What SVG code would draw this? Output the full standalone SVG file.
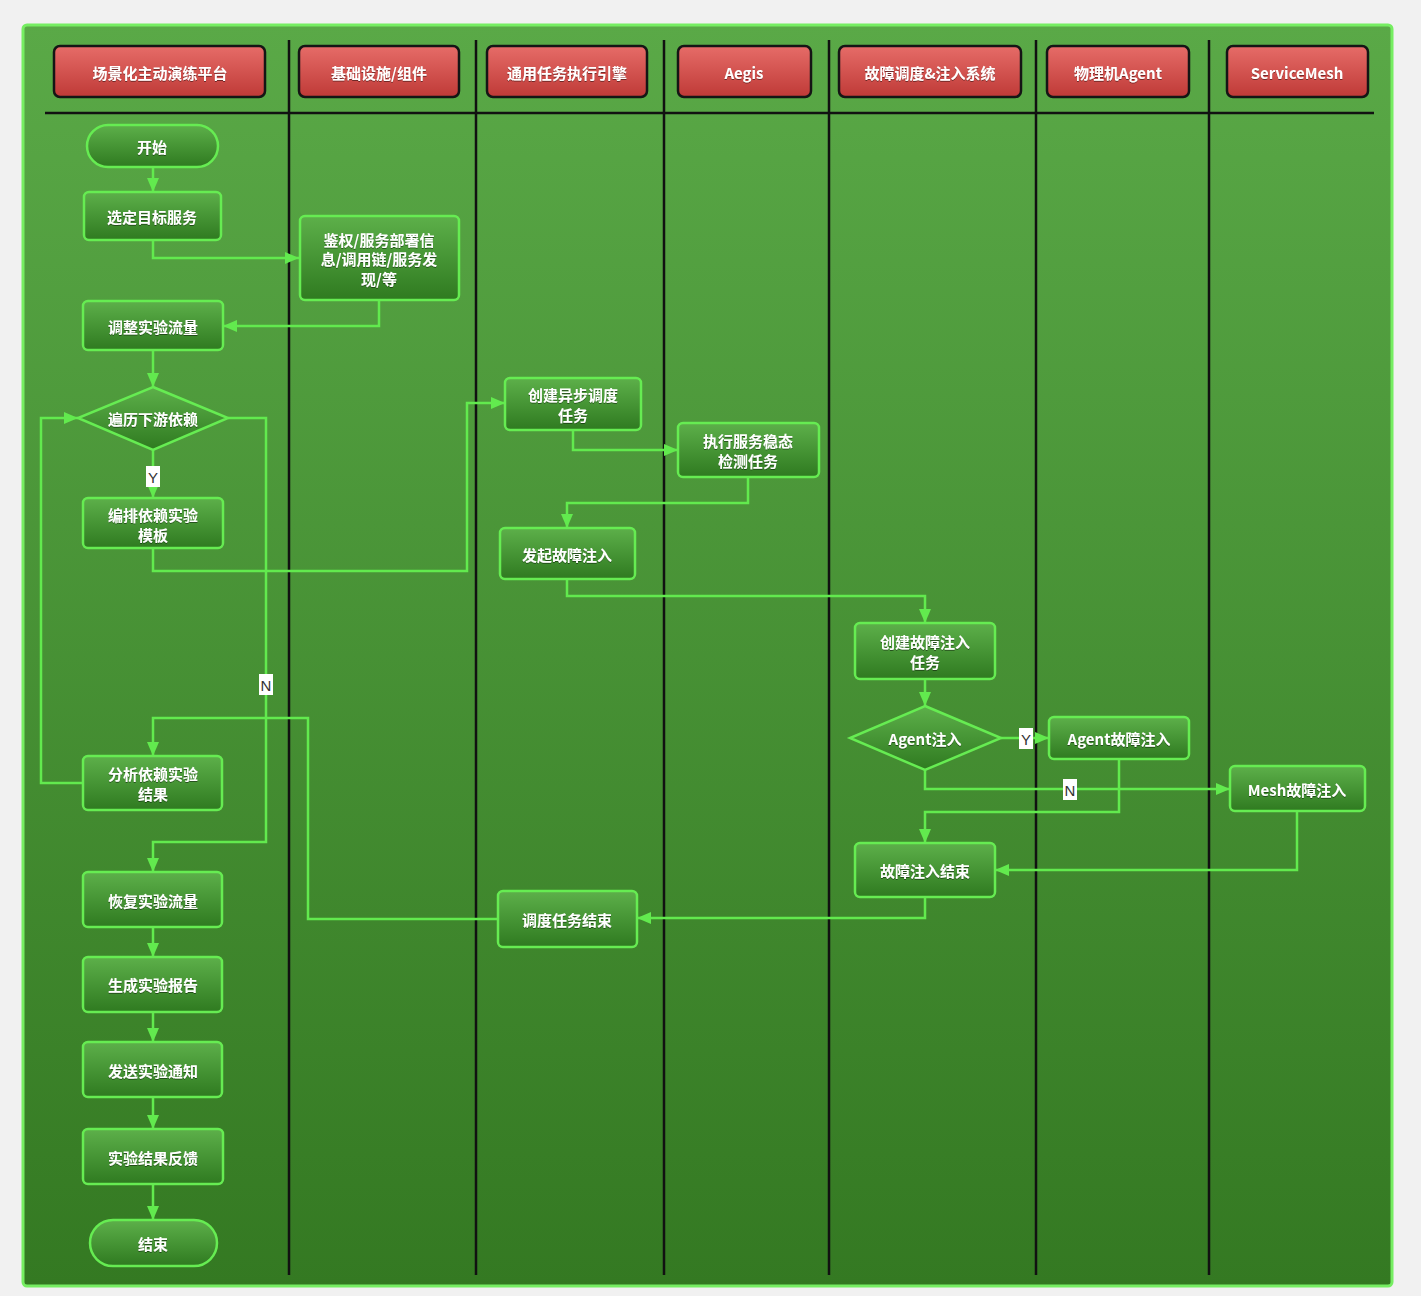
<svg xmlns="http://www.w3.org/2000/svg" width="1421" height="1296" viewBox="0 0 1421 1296">
<defs>
<linearGradient id="bg" x1="0" y1="0" x2="0" y2="1">
<stop offset="0" stop-color="#5aa947"/>
<stop offset="1" stop-color="#347922"/>
</linearGradient>
<linearGradient id="ng" x1="0" y1="0" x2="0" y2="1">
<stop offset="0" stop-color="#5db04a"/>
<stop offset="1" stop-color="#2f7a20"/>
</linearGradient>
<linearGradient id="hg" x1="0" y1="0" x2="0" y2="1">
<stop offset="0" stop-color="#e66c68"/>
<stop offset="1" stop-color="#bf3a37"/>
</linearGradient>
<marker id="arr" markerUnits="userSpaceOnUse" markerWidth="16" markerHeight="14" refX="14" refY="6" orient="auto">
<path d="M0,0 L14,6 L0,12 z" fill="#62ea4e"/>
</marker>
<filter id="ts" x="-10%" y="-30%" width="120%" height="160%">
<feDropShadow dx="0" dy="1" stdDeviation="0.6" flood-color="#000" flood-opacity="0.45"/>
</filter>
</defs>
<style>
.hdr{fill:url(#hg);stroke:#151515;stroke-width:2.5}
.nd{fill:url(#ng);stroke:#66ec52;stroke-width:2.5}
.t{font-family:"Noto Sans CJK SC","Noto Sans",sans-serif;font-size:15px;font-weight:bold;fill:#ffffff;text-anchor:middle;dominant-baseline:central;filter:url(#ts)}
.lane{stroke:#111;stroke-width:2.5;fill:none}
.e{fill:none;stroke:#62ea4e;stroke-width:2.5;marker-end:url(#arr)}
.lb{fill:#ffffff;stroke:none}
.lt{font-family:"Liberation Sans",sans-serif;font-size:15px;fill:#333;text-anchor:middle;dominant-baseline:central}
</style>
<rect x="0" y="0" width="1421" height="1296" fill="#f1f1f1"/>
<rect x="23" y="25" width="1369" height="1261" rx="4" fill="url(#bg)" stroke="#76ee62" stroke-width="3"/>
<g id="lanes">
<line class="lane" x1="45" y1="113" x2="1374" y2="113"/>
<line class="lane" x1="289" y1="40" x2="289" y2="1275"/>
<line class="lane" x1="476" y1="40" x2="476" y2="1275"/>
<line class="lane" x1="664" y1="40" x2="664" y2="1275"/>
<line class="lane" x1="829" y1="40" x2="829" y2="1275"/>
<line class="lane" x1="1036" y1="40" x2="1036" y2="1275"/>
<line class="lane" x1="1209" y1="40" x2="1209" y2="1275"/>
</g>
<g id="h1"><rect class="hdr" x="54" y="46" width="211" height="51" rx="6"/><text class="t" x="160" y="72">场景化主动演练平台</text></g>
<g id="h2"><rect class="hdr" x="299" y="46" width="160" height="51" rx="6"/><text class="t" x="379" y="72">基础设施/组件</text></g>
<g id="h3"><rect class="hdr" x="487" y="46" width="160" height="51" rx="6"/><text class="t" x="567" y="72">通用任务执行引擎</text></g>
<g id="h4"><rect class="hdr" x="678" y="46" width="133" height="51" rx="6"/><text class="t" x="744" y="72">Aegis</text></g>
<g id="h5"><rect class="hdr" x="839" y="46" width="182" height="51" rx="6"/><text class="t" x="930" y="72">故障调度&amp;注入系统</text></g>
<g id="h6"><rect class="hdr" x="1047" y="46" width="142" height="51" rx="6"/><text class="t" x="1118" y="72">物理机Agent</text></g>
<g id="h7"><rect class="hdr" x="1227" y="46" width="141" height="51" rx="6"/><text class="t" x="1297" y="72">ServiceMesh</text></g>
<g id="connectors">
<path class="e" d="M153,167 V192"/>
<path class="e" d="M153,240 V258 H299"/>
<path class="e" d="M379,300 V326 H223"/>
<path class="e" d="M153,350 V387"/>
<path class="e" d="M153,450 V498"/>
<path class="e" d="M228,418 H266 V842 H153 V872"/>
<path class="e" d="M153,548 V571 H467 V403 H505"/>
<path class="e" d="M573,430 V450 H678"/>
<path class="e" d="M748,477 V503 H567 V528"/>
<path class="e" d="M567,579 V596 H925 V623"/>
<path class="e" d="M925,679 V706"/>
<path class="e" d="M1001,738 H1049"/>
<path class="e" d="M925,770 V789 H1230"/>
<path class="e" d="M1119,759 V812 H925 V843"/>
<path class="e" d="M1297,811 V870 H995"/>
<path class="e" d="M925,897 V918 H637"/>
<path class="e" d="M498,919 H308 V718 H153 V756"/>
<path class="e" d="M83,783 H41 V418 H78"/>
<path class="e" d="M153,927 V957"/>
<path class="e" d="M153,1012 V1042"/>
<path class="e" d="M153,1097 V1129"/>
<path class="e" d="M153,1184 V1220"/>
<rect class="lb" x="146" y="466" width="14" height="21"/><text class="lt" x="153" y="477">Y</text>
<rect class="lb" x="259" y="674" width="14" height="21"/><text class="lt" x="266" y="685">N</text>
<rect class="lb" x="1019" y="728" width="14" height="21"/><text class="lt" x="1026" y="739">Y</text>
<rect class="lb" x="1063" y="779" width="14" height="21"/><text class="lt" x="1070" y="790">N</text>
</g>
<g id="n_start"><rect class="nd" x="87" y="125" width="131" height="42" rx="21"/><text class="t" x="152" y="146">开始</text></g>
<g id="n_select"><rect class="nd" x="84" y="192" width="137" height="48" rx="5"/><text class="t" x="152" y="216">选定目标服务</text></g>
<g id="n_auth"><rect class="nd" x="300" y="216" width="159" height="84" rx="5"/><text class="t" x="379" y="239">鉴权/服务部署信</text><text class="t" x="379" y="258">息/调用链/服务发</text><text class="t" x="379" y="278">现/等</text></g>
<g id="n_adjust"><rect class="nd" x="83" y="301" width="140" height="49" rx="5"/><text class="t" x="153" y="326">调整实验流量</text></g>
<g id="n_traverse"><polygon class="nd" points="153,387 228,418 153,450 78,418"/><text class="t" x="153" y="418">遍历下游依赖</text></g>
<g id="n_arrange"><rect class="nd" x="83" y="498" width="140" height="50" rx="5"/><text class="t" x="153" y="514">编排依赖实验</text><text class="t" x="153" y="534">模板</text></g>
<g id="n_async"><rect class="nd" x="505" y="378" width="136" height="52" rx="5"/><text class="t" x="573" y="394">创建异步调度</text><text class="t" x="573" y="414">任务</text></g>
<g id="n_steady"><rect class="nd" x="678" y="423" width="141" height="54" rx="5"/><text class="t" x="748" y="440">执行服务稳态</text><text class="t" x="748" y="460">检测任务</text></g>
<g id="n_launch"><rect class="nd" x="500" y="528" width="135" height="51" rx="5"/><text class="t" x="567" y="554">发起故障注入</text></g>
<g id="n_create"><rect class="nd" x="855" y="623" width="140" height="56" rx="5"/><text class="t" x="925" y="641">创建故障注入</text><text class="t" x="925" y="661">任务</text></g>
<g id="n_agentq"><polygon class="nd" points="925,706 1001,738 925,770 850,738"/><text class="t" x="925" y="738">Agent注入</text></g>
<g id="n_agent"><rect class="nd" x="1049" y="717" width="140" height="42" rx="5"/><text class="t" x="1119" y="738">Agent故障注入</text></g>
<g id="n_mesh"><rect class="nd" x="1230" y="766" width="135" height="45" rx="5"/><text class="t" x="1297" y="789">Mesh故障注入</text></g>
<g id="n_injend"><rect class="nd" x="855" y="843" width="140" height="54" rx="5"/><text class="t" x="925" y="870">故障注入结束</text></g>
<g id="n_schedend"><rect class="nd" x="498" y="891" width="139" height="56" rx="5"/><text class="t" x="567" y="919">调度任务结束</text></g>
<g id="n_analyze"><rect class="nd" x="83" y="756" width="139" height="54" rx="5"/><text class="t" x="153" y="773">分析依赖实验</text><text class="t" x="153" y="793">结果</text></g>
<g id="n_restore"><rect class="nd" x="83" y="872" width="139" height="55" rx="5"/><text class="t" x="153" y="900">恢复实验流量</text></g>
<g id="n_report"><rect class="nd" x="83" y="957" width="139" height="55" rx="5"/><text class="t" x="153" y="984">生成实验报告</text></g>
<g id="n_notify"><rect class="nd" x="83" y="1042" width="139" height="55" rx="5"/><text class="t" x="153" y="1070">发送实验通知</text></g>
<g id="n_feedback"><rect class="nd" x="83" y="1129" width="140" height="55" rx="5"/><text class="t" x="153" y="1157">实验结果反馈</text></g>
<g id="n_end"><rect class="nd" x="90" y="1220" width="127" height="46" rx="23"/><text class="t" x="153" y="1243">结束</text></g>
</svg>
